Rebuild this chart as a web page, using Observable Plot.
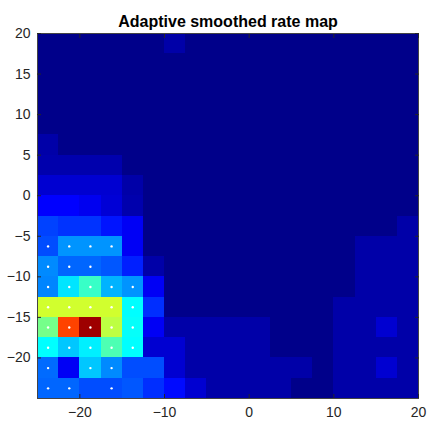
<!DOCTYPE html>
<html><head><meta charset="utf-8">
<script src="https://cdn.jsdelivr.net/npm/d3@7"></script>
<script src="https://cdn.jsdelivr.net/npm/@observablehq/plot@0.6"></script>
<style>body{margin:0;background:#fff;overflow:hidden} svg{display:block}</style>
</head><body><div id="chart"></div>
<script>
// Bin left edges (x) and bottom edges (y, listed top row first)
const binX = [-25, -22.5, -20, -17.5, -15, -12.5, -10, -7.5, -5, -2.5, 0, 2.5, 5, 7.5, 10, 12.5, 15, 17.5];
const binY = [17.5, 15, 12.5, 10, 7.5, 5, 2.5, 0, -2.5, -5, -7.5, -10, -12.5, -15, -17.5, -20, -22.5, -25];
const binSize = 2.5;
// Normalised smoothed rate, one array per row, top row first
const rate = [
  [0.01,0.01,0.01,0.01,0.01,0.01,0.04,0.01,0.01,0.01,0.01,0.01,0.01,0.01,0.01,0.01,0.01,0.01],
  [0.01,0.01,0.01,0.01,0.01,0.01,0.01,0.01,0.01,0.01,0.01,0.01,0.01,0.01,0.01,0.01,0.01,0.01],
  [0.01,0.01,0.01,0.01,0.01,0.01,0.01,0.01,0.01,0.01,0.01,0.01,0.01,0.01,0.01,0.01,0.01,0.01],
  [0.01,0.01,0.01,0.01,0.01,0.01,0.01,0.01,0.01,0.01,0.01,0.01,0.01,0.01,0.01,0.01,0.01,0.01],
  [0.01,0.01,0.01,0.01,0.01,0.01,0.01,0.01,0.01,0.01,0.01,0.01,0.01,0.01,0.01,0.01,0.01,0.01],
  [0.04,0.01,0.01,0.01,0.01,0.01,0.01,0.01,0.01,0.01,0.01,0.01,0.01,0.01,0.01,0.01,0.01,0.01],
  [0.045,0.045,0.045,0.045,0.01,0.01,0.01,0.01,0.01,0.01,0.01,0.01,0.01,0.01,0.01,0.01,0.01,0.01],
  [0.08,0.08,0.08,0.08,0.04,0.01,0.01,0.01,0.01,0.01,0.01,0.01,0.01,0.01,0.01,0.01,0.01,0.01],
  [0.125,0.125,0.11,0.085,0.045,0.01,0.01,0.01,0.01,0.01,0.01,0.01,0.01,0.01,0.01,0.01,0.01,0.01],
  [0.19,0.175,0.175,0.145,0.115,0.01,0.01,0.01,0.01,0.01,0.01,0.01,0.01,0.01,0.01,0.01,0.01,0.04],
  [0.2,0.27,0.27,0.27,0.115,0.01,0.01,0.01,0.01,0.01,0.01,0.01,0.01,0.01,0.01,0.04,0.04,0.04],
  [0.26,0.225,0.225,0.21,0.155,0.04,0.01,0.01,0.01,0.01,0.01,0.01,0.01,0.01,0.01,0.04,0.04,0.04],
  [0.255,0.35,0.43,0.3,0.27,0.115,0.01,0.01,0.01,0.01,0.01,0.01,0.01,0.01,0.01,0.04,0.04,0.04],
  [0.58,0.58,0.58,0.58,0.375,0.17,0.01,0.01,0.01,0.01,0.01,0.01,0.01,0.01,0.04,0.04,0.04,0.04],
  [0.49,0.81,0.97,0.56,0.38,0.115,0.04,0.04,0.04,0.04,0.04,0.01,0.01,0.01,0.04,0.04,0.08,0.04],
  [0.375,0.32,0.36,0.45,0.375,0.08,0.08,0.04,0.04,0.04,0.04,0.01,0.01,0.01,0.04,0.04,0.04,0.04],
  [0.23,0.115,0.32,0.26,0.2,0.2,0.08,0.04,0.04,0.04,0.04,0.04,0.04,0.01,0.04,0.04,0.08,0.04],
  [0.225,0.225,0.2,0.2,0.21,0.17,0.135,0.08,0.04,0.04,0.04,0.04,0.01,0.01,0.04,0.04,0.04,0.04]
];
// Visited-bin markers (bin centres)
const spikeX = [-23.75,-21.25,-18.75,-16.25, -23.75,-21.25,-18.75, -23.75,-21.25,-18.75,-16.25,-13.75,
                -23.75,-21.25,-18.75,-16.25,-13.75, -23.75,-21.25,-18.75,-16.25,-13.75, -23.75,-21.25,-18.75,-16.25,-13.75,
                -23.75,-18.75,-16.25, -23.75,-21.25,-16.25];
const spikeY = [-6.25,-6.25,-6.25,-6.25, -8.75,-8.75,-8.75, -11.25,-11.25,-11.25,-11.25,-11.25,
                -13.75,-13.75,-13.75,-13.75,-13.75, -16.25,-16.25,-16.25,-16.25,-16.25, -18.75,-18.75,-18.75,-18.75,-18.75,
                -21.25,-21.25,-21.25, -23.75,-23.75,-23.75];
const xTicks = [-20, -10, 0, 10, 20];
const yTicks = [-20, -15, -10, -5, 0, 5, 10, 15, 20];
const title = "Adaptive smoothed rate map";

const cells = [];
rate.forEach((row, i) => row.forEach((v, j) => cells.push({x1: binX[j], x2: binX[j] + binSize, y1: binY[i], y2: binY[i] + binSize, v})));
const spikes = spikeX.map((x, i) => ({x, y: spikeY[i]}));

const clamp = v => Math.max(0, Math.min(1, v));
const jet = t => {
  const r = clamp(Math.min(4*t - 1.5, -4*t + 4.5));
  const g = clamp(Math.min(4*t - 0.5, -4*t + 3.5));
  const b = clamp(Math.min(4*t + 0.5, -4*t + 2.5));
  return `rgb(${Math.round(r*255)},${Math.round(g*255)},${Math.round(b*255)})`;
};

const chart = Plot.plot({
  width: 430, height: 421,
  marginTop: 33, marginLeft: 37, marginRight: 12, marginBottom: 23,
  x: {domain: [-25, 20]},
  y: {domain: [-25, 20]},
  color: {type: "linear", domain: [0, 1], interpolate: jet},
  style: {fontFamily: "'Liberation Sans', Arial, sans-serif", fontSize: "14px", color: "#262626", background: "#fff"},
  marks: [
    Plot.rect(cells, {x1: "x1", x2: "x2", y1: "y1", y2: "y2", fill: "v", shapeRendering: "crispEdges"}),
    Plot.dot(spikes, {x: "x", y: "y", r: 1.2, fill: "white", stroke: "none"}),
    Plot.frame({stroke: "#444", strokeWidth: 1}),
    Plot.axisX({ticks: xTicks, anchor: "bottom", tickSize: -4, tickPadding: 13, label: null, stroke: "#262626", fill: "#262626", fontSize: 14}),
    Plot.axisX({ticks: xTicks, anchor: "top", tickSize: -4, label: null, fill: "none", stroke: "#262626"}),
    Plot.axisY({ticks: yTicks, anchor: "left", tickSize: -4, tickPadding: 11, label: null, stroke: "#262626", fill: "#262626", fontSize: 14}),
    Plot.axisY({ticks: yTicks, anchor: "right", tickSize: -4, label: null, fill: "none", stroke: "#262626"}),
    Plot.text([title], {frameAnchor: "top", dy: -12, fontSize: 16, fontWeight: "bold", fill: "#000", lineAnchor: "middle"})
  ]
});
document.getElementById("chart").appendChild(chart);
</script>
</body></html>
